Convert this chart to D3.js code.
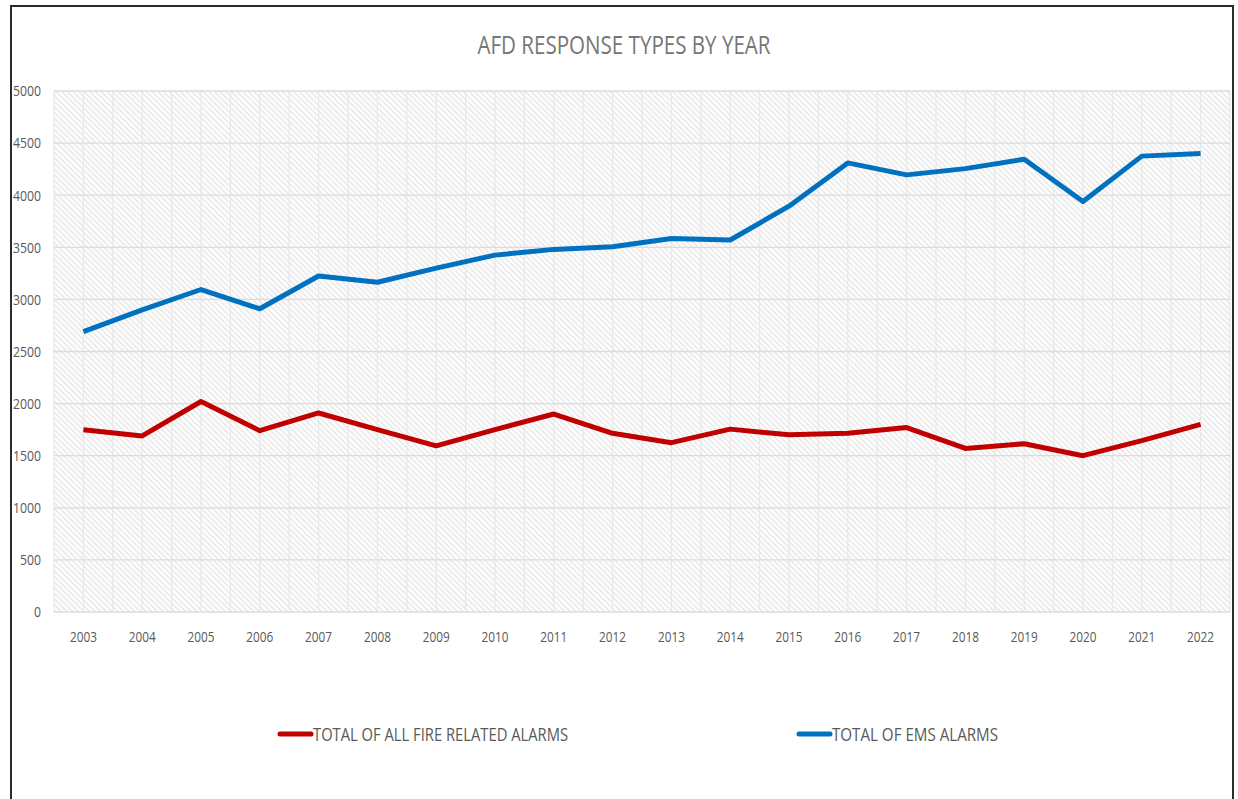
<!DOCTYPE html>
<html lang="en">
  <head>
    <meta charset="utf-8">
    <script src="https://cdn.jsdelivr.net/npm/d3@7"></script>
    <style>
      body{ margin:0; background:#fff; }
      text{ font-family:"Liberation Sans Narrow","Open Sans",sans-serif; fill:#595959; }
    </style>
  </head>
  <body>
    <svg></svg>
  </body>
  <script>
    var years = ['2003','2004','2005','2006','2007','2008','2009','2010','2011','2012',
                 '2013','2014','2015','2016','2017','2018','2019','2020','2021','2022'];
    var fireAlarms = [1750,1690,2020,1740,1910,1750,1595,1750,1900,1715,
                      1625,1755,1700,1715,1770,1570,1615,1500,1645,1800];
    var emsAlarms = [2690,2900,3095,2910,3225,3165,3300,3425,3480,3505,
                     3585,3570,3895,4310,4195,4255,4345,3940,4375,4400];
    var yTicks = [0,500,1000,1500,2000,2500,3000,3500,4000,4500,5000];
    var seriesNames = ['TOTAL OF ALL FIRE RELATED ALARMS','TOTAL OF EMS ALARMS'];

    var svgwidth = 1238, svgheight = 799;
    var svg = d3.select('svg').attr('width',svgwidth).attr('height',svgheight);

    var margins = {top:91, bottom:187, left:54, right:8};
    var width = svgwidth - margins.left - margins.right;
    var height = svgheight - margins.top - margins.bottom;

    // outer frame
    svg.append('rect')
       .attr('x',11).attr('y',6)
       .attr('width',1222).attr('height',820)
       .attr('fill','none').attr('stroke','#2b2b2b').attr('stroke-width',2);

    var defs = svg.append('defs');
    var hatch = defs.append('pattern')
                    .attr('id','hatch')
                    .attr('patternUnits','userSpaceOnUse')
                    .attr('width',4).attr('height',4)
                    .attr('patternTransform','rotate(-45)');
    hatch.append('rect').attr('width',4).attr('height',4).attr('fill','#ffffff');
    hatch.append('line')
         .attr('x1',1).attr('y1',0).attr('x2',1).attr('y2',4)
         .attr('stroke','#e0e0e0').attr('stroke-width',1.2);

    var xScale = d3.scaleBand().domain(years).range([0,width]);
    var yScale = d3.scaleLinear().domain([0,5000]).range([height,0]);

    var plot = svg.append('g')
                  .attr('transform','translate('+margins.left+','+margins.top+')');

    plot.append('rect')
        .attr('width',width).attr('height',height)
        .attr('fill','url(#hatch)');

    // vertical gridlines every half category
    var halfSteps = d3.range(0, years.length*2 + 1);
    plot.selectAll('.vgrid').data(halfSteps).enter()
        .append('line')
        .attr('x1',function(d){ return d*xScale.bandwidth()/2; })
        .attr('x2',function(d){ return d*xScale.bandwidth()/2; })
        .attr('y1',0).attr('y2',height)
        .attr('stroke','#e8e8e8').attr('stroke-width',1.2);

    plot.selectAll('.hgrid').data(yTicks).enter()
        .append('line')
        .attr('x1',0).attr('x2',width)
        .attr('y1',function(d){ return yScale(d); })
        .attr('y2',function(d){ return yScale(d); })
        .attr('stroke','#dcdcdc').attr('stroke-width',1.3);

    var yAxis = d3.axisLeft(yScale).tickValues(yTicks).tickFormat(d3.format('d'))
                  .tickSize(0).tickPadding(13);
    var yg = plot.append('g').call(yAxis);
    yg.select('.domain').remove();
    yg.selectAll('text').style('font-size','15px')
      .attr('textLength',function(d){ return String(d).length*7; })
      .attr('lengthAdjust','spacingAndGlyphs');

    var xAxis = d3.axisBottom(xScale).tickSize(0).tickPadding(19);
    var xg = plot.append('g').attr('transform','translate(0,'+height+')').call(xAxis);
    xg.select('.domain').remove();
    xg.selectAll('text').style('font-size','15px')
      .attr('textLength',27).attr('lengthAdjust','spacingAndGlyphs');

    var line = d3.line()
                 .x(function(d,i){ return xScale(years[i]) + xScale.bandwidth()/2; })
                 .y(function(d){ return yScale(d); });

    var colors = ['#c00000','#0070c0'];
    [fireAlarms, emsAlarms].forEach(function(s,i){
      plot.append('path')
          .datum(s)
          .attr('d',line)
          .attr('fill','none')
          .attr('stroke',colors[i])
          .attr('stroke-width',5)
          .attr('stroke-linejoin','round');
    });

    // title
    svg.append('text')
       .attr('x',624).attr('y',54)
       .attr('text-anchor','middle')
       .style('font-size','25px')
       .style('fill','#767676')
       .attr('textLength',293).attr('lengthAdjust','spacingAndGlyphs')
       .text('AFD RESPONSE TYPES BY YEAR');

    // legend
    var legendX = [278, 797];
    var legendW = [255, 166];
    seriesNames.forEach(function(n,i){
      svg.append('line')
         .attr('x1',legendX[i]+2).attr('x2',legendX[i]+33)
         .attr('y1',734).attr('y2',734)
         .attr('stroke',colors[i]).attr('stroke-width',5)
         .attr('stroke-linecap','round');
      svg.append('text')
         .attr('x',legendX[i]+35).attr('y',741)
         .style('font-size','18px')
         .attr('textLength',legendW[i]).attr('lengthAdjust','spacingAndGlyphs')
         .text(n);
    });
  </script>
</html>
